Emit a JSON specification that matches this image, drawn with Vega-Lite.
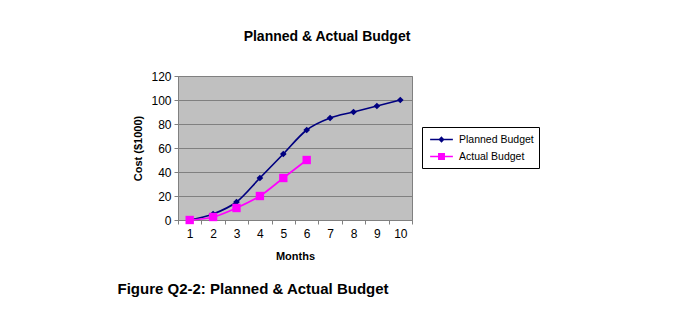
{
  "$schema": "https://vega.github.io/schema/vega-lite/v6.json",
  "background": "white",
  "padding": {"left": 117, "top": 29, "right": 5, "bottom": 5},
  "config": {
    "font": "Liberation Sans",
    "view": {"fill": "#C0C0C0", "stroke": "#808080", "strokeWidth": 1}
  },
  "title": {
    "text": "Figure Q2-2: Planned & Actual Budget",
    "orient": "bottom",
    "anchor": "start",
    "frame": "bounds",
    "dx": -15,
    "offset": 20,
    "font": "Liberation Sans",
    "fontSize": 15,
    "fontWeight": "bold",
    "color": "black"
  },
  "vconcat": [
    {
      "width": 234,
      "height": 144,
      "title": {
        "text": "Planned & Actual Budget",
        "anchor": "middle",
        "frame": "group",
        "dx": 32,
        "offset": 26,
        "fontSize": 14,
        "fontWeight": "bold",
        "color": "black"
      },
      "data": {
        "values": [
          {"Month": "1", "Cost": 0, "Series": "Planned Budget"},
          {"Month": "2", "Cost": 5, "Series": "Planned Budget"},
          {"Month": "3", "Cost": 15, "Series": "Planned Budget"},
          {"Month": "4", "Cost": 35, "Series": "Planned Budget"},
          {"Month": "5", "Cost": 55, "Series": "Planned Budget"},
          {"Month": "6", "Cost": 75, "Series": "Planned Budget"},
          {"Month": "7", "Cost": 85, "Series": "Planned Budget"},
          {"Month": "8", "Cost": 90, "Series": "Planned Budget"},
          {"Month": "9", "Cost": 95, "Series": "Planned Budget"},
          {"Month": "10", "Cost": 100, "Series": "Planned Budget"},
          {"Month": "1", "Cost": 0, "Series": "Actual Budget"},
          {"Month": "2", "Cost": 2.5, "Series": "Actual Budget"},
          {"Month": "3", "Cost": 10, "Series": "Actual Budget"},
          {"Month": "4", "Cost": 20, "Series": "Actual Budget"},
          {"Month": "5", "Cost": 35, "Series": "Actual Budget"},
          {"Month": "6", "Cost": 50, "Series": "Actual Budget"}
        ]
      },
      "encoding": {
        "x": {
          "field": "Month",
          "type": "ordinal",
          "sort": null,
          "bandPosition": 0.5,
          "scale": {"type": "band", "paddingInner": 0, "paddingOuter": 0},
          "axis": {
            "title": "Months",
            "titleFontSize": 11,
            "titleFontWeight": "bold",
            "titleColor": "black",
            "titlePadding": 11,
            "labelAngle": 0,
            "labelFontSize": 12,
            "labelColor": "black",
            "labelPadding": 4,
            "tickBand": "extent",
            "tickSize": 4,
            "tickColor": "#808080",
            "domainColor": "#808080",
            "grid": false
          }
        },
        "y": {
          "field": "Cost",
          "type": "quantitative",
          "scale": {"domain": [0, 120], "nice": false},
          "axis": {
            "title": "Cost ($1000)",
            "titleFontSize": 11,
            "titleFontWeight": "bold",
            "titleColor": "black",
            "titlePadding": 7,
            "values": [0, 20, 40, 60, 80, 100, 120],
            "labelFontSize": 12,
            "labelColor": "black",
            "labelPadding": 3,
            "tickSize": 4,
            "tickColor": "#808080",
            "domainColor": "#808080",
            "grid": true,
            "gridColor": "#808080",
            "gridOpacity": 1
          }
        },
        "color": {
          "field": "Series",
          "type": "nominal",
          "scale": {"domain": ["Planned Budget", "Actual Budget"], "range": ["#000080", "#FF00FF"]},
          "legend": {
            "title": null,
            "orient": "none",
            "legendX": 244,
            "legendY": 51,
            "padding": 5,
            "strokeColor": "#000000",
            "fillColor": "white",
            "labelFontSize": 10.5,
            "labelColor": "black",
            "labelOffset": 10,
            "symbolSize": 169,
            "symbolOffset": 7,
            "symbolStrokeWidth": 1.5,
            "rowPadding": 4,
            "encode": {
              "symbols": {
                "update": {
                  "shape": {"signal": "datum.value === 'Planned Budget' ? 'M-1.75,0H1.75M0,-0.32L0.32,0L0,0.32L-0.32,0Z' : 'M-1.75,0H1.75M-0.42,-0.42H0.42V0.42H-0.42Z'"},
                  "fill": {"scale": "color", "field": "value"},
                  "stroke": {"scale": "color", "field": "value"},
                  "opacity": {"value": 1}
                }
              }
            }
          }
        }
      },
      "layer": [
        {"mark": {"type": "line", "interpolate": "monotone", "strokeWidth": 1.7}},
        {
          "transform": [{"filter": "datum.Series === 'Planned Budget'"}],
          "mark": {"type": "point", "shape": "diamond", "filled": true, "size": 45, "opacity": 1}
        },
        {
          "transform": [{"filter": "datum.Series === 'Actual Budget'"}],
          "mark": {"type": "point", "shape": "square", "filled": true, "size": 70, "opacity": 1}
        }
      ]
    }
  ]
}
